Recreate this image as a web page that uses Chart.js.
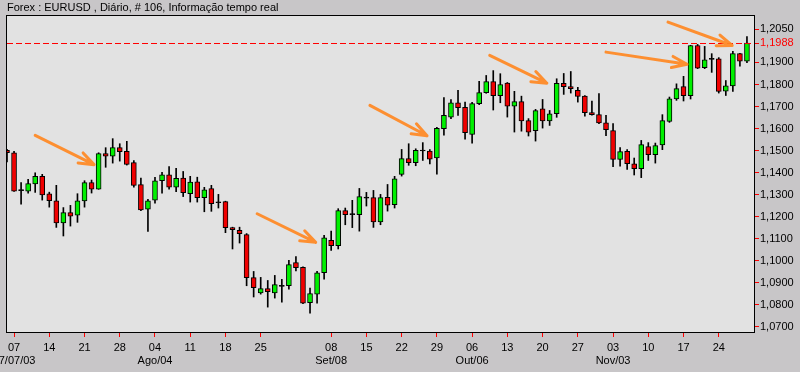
<!DOCTYPE html>
<html>
<head>
<meta charset="utf-8">
<script src="https://cdn.jsdelivr.net/npm/chart.js@4.4.1/dist/chart.umd.min.js"></script>
<style>
body { margin: 0; background: #c8c6c8; }
canvas { display: block; }
</style>
</head>
<body>
<canvas id="myChart" width="800" height="372"></canvas>
<script>
// trading days, dd/mm (2003)
var Dates = ['04/07',
  '07/07','08/07','09/07','10/07','11/07', '14/07','15/07','16/07','17/07','18/07',
  '21/07','22/07','23/07','24/07','25/07', '28/07','29/07','30/07','31/07','01/08',
  '04/08','05/08','06/08','07/08','08/08', '11/08','12/08','13/08','14/08','15/08',
  '18/08','19/08','20/08','21/08','22/08', '25/08','26/08','27/08','28/08','29/08',
  '01/09','02/09','03/09','04/09','05/09', '08/09','09/09','10/09','11/09','12/09',
  '15/09','16/09','17/09','18/09','19/09', '22/09','23/09','24/09','25/09','26/09',
  '29/09','30/09','01/10','02/10','03/10', '06/10','07/10','08/10','09/10','10/10',
  '13/10','14/10','15/10','16/10','17/10', '20/10','21/10','22/10','23/10','24/10',
  '27/10','28/10','29/10','30/10','31/10', '03/11','04/11','05/11','06/11','07/11',
  '10/11','11/11','12/11','13/11','14/11', '17/11','18/11','19/11','20/11','21/11',
  '24/11','25/11','26/11','27/11','28/11', ''];

var Open = [1.1501,
  1.1490,1.1318,1.1316,1.1348,1.1383, 1.1304,1.1272,1.1171,1.1218,1.1207,
  1.1271,1.1355,1.1325,1.1486,1.1475, 1.1513,1.1496,1.1445,1.1345,1.1234,
  1.1275,1.1363,1.1390,1.1334,1.1375, 1.1304,1.1358,1.1286,1.1327,1.1263,
  1.1268,1.1150,1.1138,1.1118,1.0923, 1.0853,1.0873,1.0853,1.0883,1.0886,
  1.0991,1.0970,1.0809,1.0848,1.0945, 1.1092,1.1068,1.1227,1.1209,1.1209,
  1.1284,1.1286,1.1176,1.1287,1.1254, 1.1392,1.1463,1.1445,1.1498,1.1498,
  1.1466,1.1599,1.1652,1.1717,1.1696, 1.1573,1.1713,1.1763,1.1813,1.1749,
  1.1806,1.1702,1.1722,1.1636,1.1590, 1.1690,1.1634,1.1667,1.1805,1.1791,
  1.1773,1.1747,1.1672,1.1663,1.1626, 1.1591,1.1460,1.1496,1.1440,1.1418,
  1.1518,1.1481,1.1525,1.1632,1.1735, 1.1790,1.1749,1.1977,1.1876,1.1914,
  1.1917,1.1770,1.1794,1.1940,1.1906];
var High = [1.1505,
  1.1496,1.1354,1.1369,1.1399,1.1392, 1.1311,1.1342,1.1241,1.1251,1.1304,
  1.1363,1.1366,1.1490,1.1513,1.1554, 1.1531,1.1542,1.1455,1.1375,1.1278,
  1.1378,1.1401,1.1427,1.1419,1.1405, 1.1383,1.1379,1.1333,1.1342,1.1301,
  1.1270,1.1152,1.1152,1.1123,1.0951, 1.0924,1.0910,1.0933,1.0915,1.1001,
  1.1019,1.0972,1.0876,1.0951,1.1115, 1.1134,1.1236,1.1239,1.1274,1.1328,
  1.1310,1.1319,1.1301,1.1346,1.1383, 1.1505,1.1531,1.1508,1.1536,1.1504,
  1.1606,1.1741,1.1732,1.1773,1.1720, 1.1719,1.1814,1.1841,1.1863,1.1849,
  1.1809,1.1769,1.1747,1.1645,1.1687, 1.1732,1.1682,1.1826,1.1850,1.1859,
  1.1787,1.1750,1.1725,1.1759,1.1660, 1.1623,1.1514,1.1504,1.1466,1.1546,
  1.1536,1.1534,1.1663,1.1743,1.1803, 1.1837,1.1978,1.1982,1.1973,1.1940,
  1.1922,1.1818,1.1950,1.1942,1.2018];
var Low = [1.1448,
  1.1314,1.1256,1.1307,1.1310,1.1275, 1.1243,1.1151,1.1112,1.1157,1.1174,
  1.1243,1.1307,1.1324,1.1424,1.1443, 1.1452,1.1434,1.1334,1.1227,1.1133,
  1.1261,1.1307,1.1325,1.1313,1.1291, 1.1266,1.1266,1.1222,1.1224,1.1239,
  1.1127,1.1053,1.1080,1.0886,1.0835, 1.0848,1.0789,1.0830,1.0811,1.0871,
  1.0953,1.0805,1.0762,1.0807,1.0916, 1.1047,1.1053,1.1163,1.1150,1.1134,
  1.1248,1.1151,1.1163,1.1225,1.1239, 1.1384,1.1433,1.1431,1.1455,1.1439,
  1.1393,1.1570,1.1645,1.1660,1.1552, 1.1534,1.1708,1.1760,1.1684,1.1717,
  1.1652,1.1584,1.1588,1.1566,1.1543, 1.1602,1.1614,1.1651,1.1755,1.1761,
  1.1720,1.1656,1.1661,1.1622,1.1567, 1.1427,1.1429,1.1414,1.1389,1.1377,
  1.1455,1.1443,1.1504,1.1628,1.1728, 1.1725,1.1734,1.1872,1.1872,1.1855,
  1.1761,1.1750,1.1769,1.1883,1.1899];
var Close = [1.1490,
  1.1316,1.1318,1.1350,1.1383,1.1298, 1.1272,1.1171,1.1218,1.1202,1.1272,
  1.1354,1.1325,1.1486,1.1475,1.1513, 1.1495,1.1437,1.1342,1.1230,1.1272,
  1.1363,1.1390,1.1334,1.1374,1.1309, 1.1357,1.1286,1.1322,1.1259,1.1263,
  1.1150,1.1141,1.1123,1.0923,1.0877, 1.0873,1.0859,1.0891,1.0883,1.0982,
  1.0968,1.0807,1.0850,1.0945,1.1104, 1.1068,1.1227,1.1209,1.1209,1.1291,
  1.1284,1.1176,1.1286,1.1252,1.1372, 1.1463,1.1445,1.1501,1.1498,1.1461,
  1.1601,1.1660,1.1717,1.1695,1.1581, 1.1713,1.1763,1.1813,1.1749,1.1800,
  1.1702,1.1722,1.1634,1.1584,1.1681, 1.1634,1.1667,1.1805,1.1790,1.1781,
  1.1746,1.1672,1.1663,1.1626,1.1595, 1.1460,1.1495,1.1440,1.1418,1.1527,
  1.1481,1.1522,1.1636,1.1735,1.1781, 1.1749,1.1977,1.1874,1.1912,1.1914,
  1.1769,1.1794,1.1940,1.1906,1.1988];

var LastPrice = 1.1988;
var YTicks = [1.07, 1.08, 1.09, 1.10, 1.11, 1.12, 1.13, 1.14, 1.15, 1.16, 1.17, 1.18, 1.19, 1.1988, 1.205];
var TickDates = ['07/07','14/07','21/07','28/07','04/08','11/08','18/08','25/08','08/09','15/09',
  '22/09','29/09','06/10','13/10','20/10','27/10','03/11','10/11','17/11','24/11'];
var MonthLabels = {'07/07':'07/07/03','04/08':'Ago/04','08/09':'Set/08','06/10':'Out/06','03/11':'Nov/03'};

// hand-drawn arrows: [index, price] -> [index, price]
var Arrows = [
  {from: [4.0, 1.1569], to: [12.35, 1.1436]},
  {from: [35.5, 1.1213], to: [43.8, 1.1083]},
  {from: [51.5, 1.1705], to: [59.6, 1.1567]},
  {from: [68.5, 1.1932], to: [76.6, 1.1806]},
  {from: [85.0, 1.1947], to: [96.5, 1.1892]},
  {from: [93.8, 1.2083], to: [102.9, 1.1977]}
];

var Bodies = Open.map(function (o, i) { return [o, Close[i]]; });
var Wicks = Low.map(function (l, i) { return [l, High[i]]; });
var BodyColors = Open.map(function (o, i) {
  if (Close[i] > o) return '#00f000';
  if (Close[i] < o) return '#f00000';
  return '#000000';
});

var framePlugin = {
  id: 'frame',
  beforeDraw: function (chart) {
    var ctx = chart.ctx, a = chart.chartArea;
    ctx.save();
    ctx.fillStyle = '#c8c6c8';
    ctx.fillRect(0, 0, chart.width, chart.height);
    ctx.fillStyle = '#e2e2e2';
    ctx.fillRect(a.left, a.top, a.right - a.left, a.bottom - a.top);
    ctx.restore();
  },
  afterDatasetsDraw: function (chart) {
    var ctx = chart.ctx, a = chart.chartArea, xs = chart.scales.x, ys = chart.scales.y;
    // last price line, dashed red
    var y = Math.round(ys.getPixelForValue(LastPrice));
    ctx.save();
    ctx.fillStyle = '#ff0000';
    for (var x = Math.round(a.left); x < a.right; x += 9) {
      ctx.fillRect(x, y, Math.min(6, a.right - x), 1);
    }
    ctx.restore();

    ctx.save();
    ctx.strokeStyle = 'rgba(255,136,34,0.92)';
    ctx.lineWidth = 3;
    ctx.lineCap = 'round';
    Arrows.forEach(function (ar) {
      var x0 = xs.getPixelForValue(ar.from[0]), y0 = ys.getPixelForValue(ar.from[1]);
      var x1 = xs.getPixelForValue(ar.to[0]), y1 = ys.getPixelForValue(ar.to[1]);
      var ang = Math.atan2(y1 - y0, x1 - x0);
      ctx.beginPath();
      ctx.moveTo(x0, y0);
      ctx.lineTo(x1, y1);
      [-0.36, 0.36].forEach(function (d) {
        ctx.moveTo(x1, y1);
        ctx.lineTo(x1 - 16 * Math.cos(ang + d), y1 - 16 * Math.sin(ang + d));
      });
      ctx.stroke();
    });
    ctx.restore();
  },
  afterDraw: function (chart) {
    var ctx = chart.ctx, a = chart.chartArea;
    ctx.save();
    ctx.strokeStyle = '#000';
    ctx.lineWidth = 1;
    ctx.strokeRect(a.left - 0.5, a.top - 0.5, a.right - a.left + 1, a.bottom - a.top + 1);
    ctx.restore();
  }
};

Chart.defaults.font.family = "'Liberation Sans', Arial, sans-serif";
Chart.defaults.color = '#000';

var ctx = document.getElementById('myChart').getContext('2d');
var myChart = new Chart(ctx, {
  type: 'bar',
  data: {
    labels: Dates,
    datasets: [{
      label: 'body',
      data: Bodies,
      backgroundColor: BodyColors,
      borderColor: '#000',
      borderWidth: 1,
      borderSkipped: false,
      barThickness: 5,
      minBarLength: 1,
      grouped: false
    }, {
      label: 'wick',
      data: Wicks,
      backgroundColor: '#000',
      borderWidth: 0,
      barThickness: 1,
      grouped: false
    }]
  },
  options: {
    responsive: false,
    animation: false,
    devicePixelRatio: 1,
    layout: { autoPadding: false, padding: { left: 7, right: 0, top: 0, bottom: 0 } },
    plugins: {
      legend: { display: false },
      tooltip: { enabled: false },
      title: {
        display: true,
        text: 'Forex : EURUSD , Diário, # 106, Informação tempo real',
        align: 'start',
        color: '#000',
        font: { size: 11, weight: 'normal' },
        padding: { top: 1, bottom: 1.8 }
      }
    },
    scales: {
      x: {
        type: 'category',
        offset: false,
        afterBuildTicks: function (scale) {
          scale.ticks = scale.ticks.filter(function (t) { return TickDates.indexOf(Dates[t.value]) >= 0; });
        },
        afterFit: function (scale) {
          scale.height = 40;
          scale.paddingLeft = 0;
          scale.paddingRight = 0;
        },
        grid: { offset: false, drawOnChartArea: false, drawTicks: true, tickLength: 5, tickColor: '#ff0000', color: '#ff0000' },
        border: { display: true, color: '#000', width: 1 },
        ticks: {
          autoSkip: false,
          maxRotation: 0,
          padding: 4,
          font: { size: 11, lineHeight: 1.2 },
          callback: function (value) {
            var d = Dates[value];
            var day = d.slice(0, 2);
            return MonthLabels[d] ? [day, MonthLabels[d]] : day;
          }
        }
      },
      y: {
        type: 'linear',
        position: 'right',
        min: 1.0676,
        max: 1.2111,
        afterBuildTicks: function (scale) {
          scale.ticks = YTicks.map(function (v) { return { value: v }; });
        },
        afterFit: function (scale) {
          scale.width = 46;
          scale.paddingTop = 0;
          scale.paddingBottom = 0;
        },
        grid: { drawOnChartArea: false, drawTicks: true, tickLength: 5, tickColor: '#ff0000', color: '#ff0000' },
        border: { display: true, color: '#000', width: 1 },
        ticks: {
          autoSkip: false,
          padding: 1,
          font: { size: 11 },
          color: function (c) { return c.tick && c.tick.value === LastPrice ? '#ff0000' : '#000'; },
          callback: function (v) { return v.toFixed(4).replace('.', ','); }
        }
      }
    }
  },
  plugins: [framePlugin]
});
</script>
</body>
</html>
